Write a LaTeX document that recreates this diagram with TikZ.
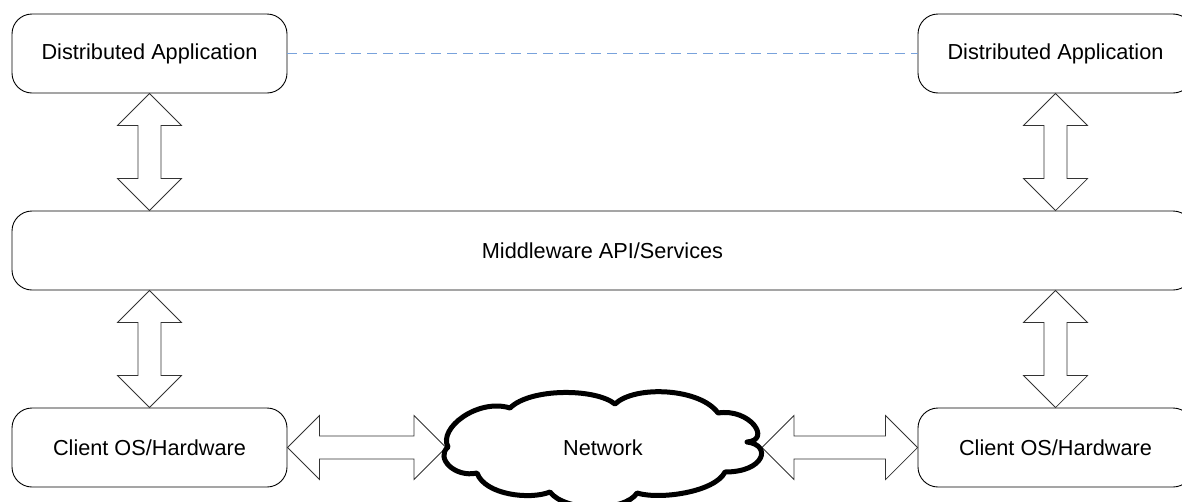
\documentclass[tikz,border=0pt]{standalone}
\usepackage{fontspec}
\setmainfont{Liberation Sans}
\usetikzlibrary{calc}
\definecolor{linkblue}{RGB}{120,162,220}

% vertical double block arrow between two points, first one on top
\newcommand\vdblarrow[2]{%
  \draw[blockarrow] let \p1=(#1), \p2=(#2) in
    (\x1,\y1) -- (\x1+32pt,\y1-32pt) -- (\x1+11.5pt,\y1-32pt)
    -- (\x1+11.5pt,\y2+32pt) -- (\x1+32pt,\y2+32pt) -- (\x1,\y2)
    -- (\x1-32pt,\y2+32pt) -- (\x1-11.5pt,\y2+32pt) -- (\x1-11.5pt,\y1-32pt)
    -- (\x1-32pt,\y1-32pt) -- cycle;}

% horizontal double block arrow between two points, first one on the left
\newcommand\hdblarrow[2]{%
  \draw[blockarrow] let \p1=(#1), \p2=(#2) in
    (\x1,\y1) -- (\x1+32pt,\y1+32pt) -- (\x1+32pt,\y1+11.5pt)
    -- (\x2-32pt,\y1+11.5pt) -- (\x2-32pt,\y1+32pt) -- (\x2,\y1)
    -- (\x2-32pt,\y1-32pt) -- (\x2-32pt,\y1-11.5pt) -- (\x1+32pt,\y1-11.5pt)
    -- (\x1+32pt,\y1-32pt) -- cycle;}

\tikzset{
  box/.style={draw, rounded corners=20pt, minimum width=275pt,
    minimum height=79pt, line width=0.9pt, inner sep=0pt, fill=white,
    font=\fontsize{21.7}{26}\selectfont},
  blockarrow/.style={draw=black!80, fill=white, line width=0.8pt,
    line join=miter},
  dashlink/.style={linkblue, line width=1.3pt, dash pattern=on 10pt off 6pt},
  cloudline/.style={draw=black, fill=white, line width=5pt, line join=round},
  label/.style={font=\fontsize{21.7}{26}\selectfont, inner sep=0pt}
}

\begin{document}
\begin{tikzpicture}[x=1pt, y=-1pt]
\useasboundingbox (0,0) rectangle (1182,501);
\clip (0,0) rectangle (1182,501);

% layers
\node[box] (tl) at (149.5,53.5) {Distributed Application};
\node[box] (tr) at (1055.5,53.5) {Distributed Application};
\node[box, minimum width=1181pt] (mw) at (602.5,250.5) {Middleware API/Services};
\node[box] (cl) at (149.5,447.5) {Client OS/Hardware};
\node[box] (cr) at (1055.5,447.5) {Client OS/Hardware};

% peer link between the applications
\draw[dashlink] (tl.east) -- (tr.west);

% application <-> middleware <-> OS
\vdblarrow{tl.south}{tl.south |- mw.north}
\vdblarrow{tr.south}{tr.south |- mw.north}
\vdblarrow{mw.south -| cl.north}{cl.north}
\vdblarrow{mw.south -| cr.north}{cr.north}

% network attachment points
\coordinate (netW) at (446,447.5);
\coordinate (netE) at (762,447.5);

\hdblarrow{cl.east}{netW}
\hdblarrow{netE}{cr.west}

% network cloud
\draw[cloudline] (448,447)
  .. controls (438,428) and (478,398) .. (510,408)
  .. controls (530,388) and (595,388) .. (615,404)
  .. controls (635,385) and (700,388) .. (718,413)
  .. controls (750,408) and (772,440) .. (747,442)
  .. controls (772,445) and (765,472) .. (725,472)
  .. controls (715,492) and (660,500) .. (637,493)
  .. controls (625,512) and (565,512) .. (550,492)
  .. controls (530,500) and (485,495) .. (477,473)
  .. controls (455,478) and (435,458) .. cycle;
\node[label] (net) at (603,448) {Network};
\end{tikzpicture}
\end{document}
